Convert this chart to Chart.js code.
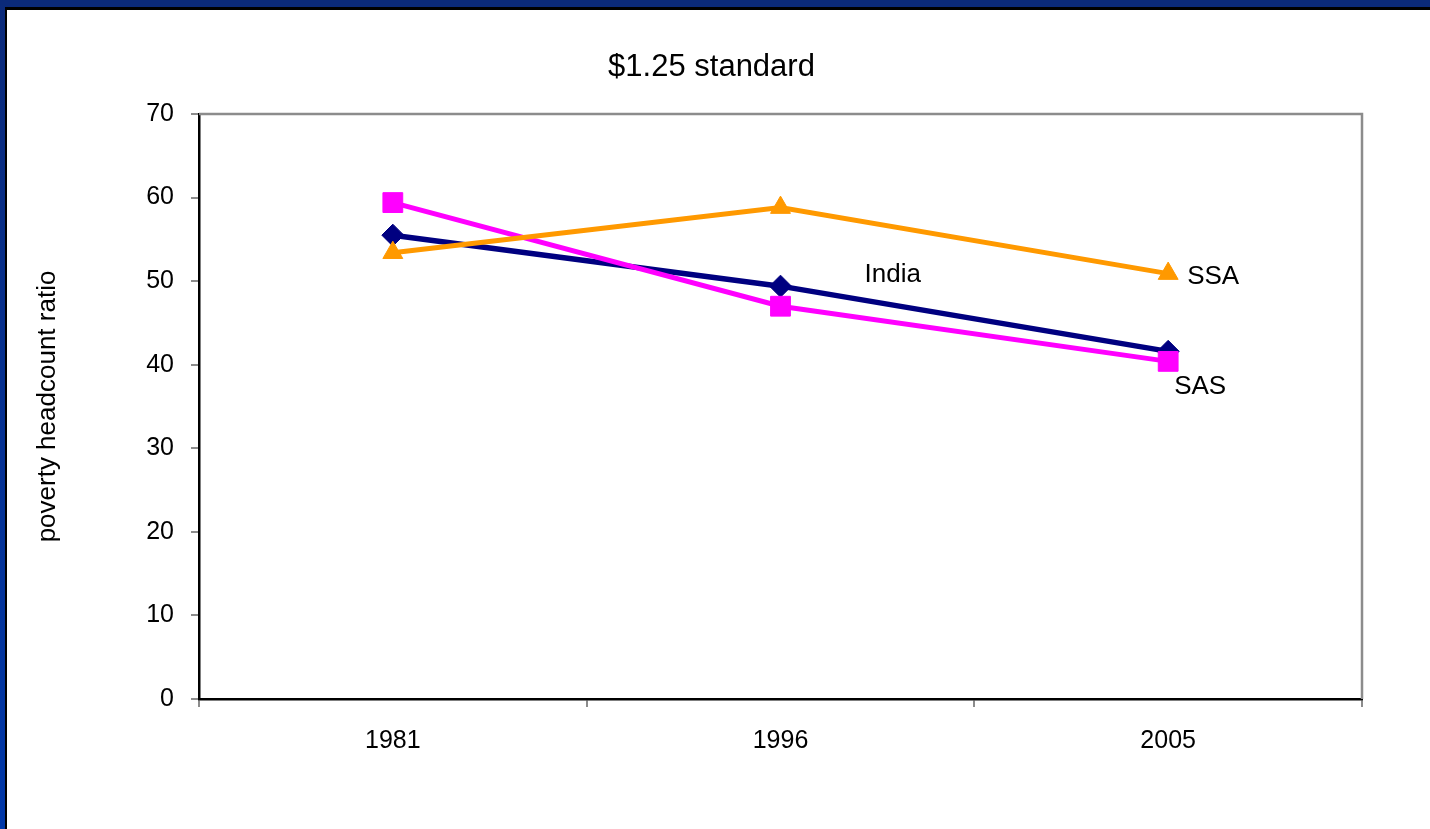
<!DOCTYPE html>
<html>
<head>
<meta charset="utf-8">
<script src="https://cdn.jsdelivr.net/npm/chart.js@4.4.1/dist/chart.umd.min.js"></script>
<style>
  html, body { margin: 0; padding: 0; background: #fff; }
  body { width: 1430px; height: 829px; position: relative; overflow: hidden; }
  #barTop { position: absolute; left: 0; top: 0; width: 1430px; height: 7px; background: #0b2a7a; }
  #barLeft { position: absolute; left: 0; top: 0; width: 5px; height: 829px; background: linear-gradient(#0b2a7a, #0037a8); }
  #lineTop { position: absolute; left: 5px; top: 7px; width: 1425px; height: 3px; background: #000; }
  #lineLeft { position: absolute; left: 5px; top: 7px; width: 2px; height: 822px; background: #000; }
  #box { position: absolute; left: 7px; top: 10px; width: 1423px; height: 819px; }
</style>
</head>
<body>
<div id="barTop"></div>
<div id="barLeft"></div>
<div id="lineTop"></div>
<div id="lineLeft"></div>
<div id="box"><canvas id="myChart" width="1423" height="819"></canvas></div>

<script>
'use strict'

// years on the x axis
const years = ['1981', '1996', '2005'];

// poverty headcount ratio, $1.25 a day
const india = [55.5, 49.4, 41.6];
const sas = [59.4, 47.0, 40.4];
const ssa = [53.4, 58.8, 50.9];

// y axis range
const yMin = 0;
const yMax = 70;
const yStep = 10;

// name written next to one point of each series
const seriesNames = ['India', 'SAS', 'SSA'];
const nameAtIndex = [1, 2, 2];

const chartTitle = '$1.25 standard';

const font = "'Liberation Sans', Arial, sans-serif";

// grey frame on top and right of the plot area
const plotFrame = {
  id: 'plotFrame',
  beforeDatasetsDraw(chart) {
    const a = chart.chartArea;
    const ctx = chart.ctx;
    ctx.save();
    ctx.strokeStyle = '#8c8c8c';
    ctx.lineWidth = 2.5;
    ctx.beginPath();
    ctx.moveTo(a.left, a.top);
    ctx.lineTo(a.right, a.top);
    ctx.lineTo(a.right, a.bottom);
    ctx.stroke();
    ctx.restore();
  }
};

// title above the plot, a bit left of the plot centre
const topTitle = {
  id: 'topTitle',
  afterDraw(chart) {
    const a = chart.chartArea;
    const ctx = chart.ctx;
    ctx.save();
    ctx.fillStyle = '#000';
    ctx.font = '31px ' + font;
    ctx.textAlign = 'center';
    ctx.textBaseline = 'middle';
    ctx.fillText(chartTitle, (a.left + a.right) / 2 - 69, a.top - 47);
    ctx.restore();
  }
};

// series names beside their points
const seriesLabels = {
  id: 'seriesLabels',
  afterDatasetsDraw(chart) {
    const ctx = chart.ctx;
    const shift = [[84, -11], [6, 25], [19, 3]];
    ctx.save();
    ctx.fillStyle = '#000';
    ctx.font = '26px ' + font;
    ctx.textAlign = 'left';
    ctx.textBaseline = 'middle';
    for (let i = 0; i < seriesNames.length; i++) {
      const pt = chart.getDatasetMeta(i).data[nameAtIndex[i]];
      ctx.fillText(seriesNames[i], pt.x + shift[i][0], pt.y + shift[i][1]);
    }
    ctx.restore();
  }
};

const ctx1 = document.getElementById('myChart');

new Chart(ctx1, {
  type: 'line',
  data: {
    labels: years,
    datasets: [{
      label: 'India',
      data: india,
      borderColor: '#000080',
      backgroundColor: '#000080',
      borderWidth: 5.5,
      pointStyle: 'rectRot',
      pointRadius: 11,
      pointBorderWidth: 1,
      order: 3
    }, {
      label: 'SAS',
      data: sas,
      borderColor: '#ff00ff',
      backgroundColor: '#ff00ff',
      borderWidth: 5,
      pointStyle: 'rect',
      pointRadius: 14,
      pointBorderWidth: 1,
      order: 2
    }, {
      label: 'SSA',
      data: ssa,
      borderColor: '#ff9900',
      backgroundColor: '#ff9900',
      borderWidth: 5,
      pointStyle: 'triangle',
      pointRadius: 11.5,
      pointBorderWidth: 1,
      order: 1
    }]
  },
  options: {
    responsive: false,
    animation: false,
    layout: { padding: { left: 0, right: 68, top: 104, bottom: 0 } },
    elements: { line: { tension: 0, fill: false } },
    plugins: {
      legend: { display: false },
      tooltip: { enabled: false },
      title: { display: false }
    },
    scales: {
      x: {
        offset: true,
        afterFit(scale) { scale.height = 130; },
        grid: {
          offset: true,
          drawOnChartArea: false,
          tickLength: 8,
          color: '#8c8c8c',
          lineWidth: 2
        },
        border: { display: true, color: '#000', width: 2.5 },
        ticks: {
          color: '#000',
          padding: 19,
          font: { family: font, size: 25 }
        }
      },
      y: {
        min: yMin,
        max: yMax,
        afterFit(scale) { scale.width = 192; },
        grid: {
          drawOnChartArea: false,
          tickLength: 8,
          color: '#8c8c8c',
          lineWidth: 2
        },
        border: { display: true, color: '#000', width: 2.5 },
        ticks: {
          stepSize: yStep,
          color: '#000',
          padding: 17,
          font: { family: font, size: 25 }
        },
        title: {
          display: true,
          text: 'poverty headcount ratio',
          color: '#000',
          font: { family: font, size: 26 },
          padding: { top: 25 }
        }
      }
    }
  },
  plugins: [plotFrame, seriesLabels, topTitle]
});
</script>
</body>
</html>
